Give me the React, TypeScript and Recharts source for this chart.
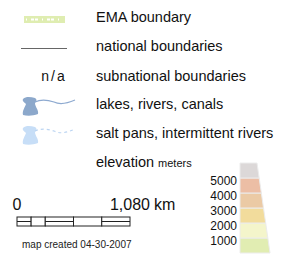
import React from "react";
import { BarChart, Bar, XAxis, YAxis } from "recharts";

// legend rows (top to bottom)
const rowLabels = [
  "EMA boundary",
  "national boundaries",
  "subnational boundaries",
  "lakes, rivers, canals",
  "salt pans, intermittent rivers",
];

// elevation ramp, metres (upper edge of each band, bottom band first)
const bandTops = [1000, 2000, 3000, 4000, 5000, 6000];
const bandColors = ["#e1edb2", "#f4f5cb", "#f2dc9c", "#ebcaa5", "#ecbea5", "#dcd8d8"];
const elevationTicks = [1000, 2000, 3000, 4000, 5000];

// scale bar segments, km
const scaleSegments = [135, 135, 270, 270, 270];
const scaleTicks = [0, 1080];
const scaleTickLabels = ["0", "1,080"];
const scaleUnit = "km";

const FONT = '"Liberation Sans", Arial, sans-serif';

const elevData = [
  bandTops.reduce<Record<string, string | number>>(
    (row, top, i) => {
      row[`b${i}`] = top - (i === 0 ? 0 : bandTops[i - 1]);
      return row;
    },
    { name: "elevation" }
  ),
];

const scaleData = [
  scaleSegments.reduce<Record<string, string | number>>(
    (row, v, i) => {
      row[`s${i}`] = v;
      return row;
    },
    { name: "scale" }
  ),
];

const EW = 76;
const EH = 110;
const EM = { top: 10, right: 6, bottom: 10, left: 0 };
const TAPER = 13 / 30;

function makeBand(color: string) {
  return (props: any) => {
    const { x, y, width, height } = props;
    const bottom = EH - EM.bottom;
    const span = EH - EM.top - EM.bottom;
    const w = (py: number) => width * (1 - (TAPER * (bottom - py)) / span);
    const pts = [
      [x, y],
      [x + w(y), y],
      [x + w(y + height), y + height],
      [x, y + height],
    ]
      .map((p) => p.join(","))
      .join(" ");
    return <polygon points={pts} fill={color} stroke="#ececec" strokeWidth={1} />;
  };
}

function makeSegment(i: number) {
  return (props: any) => {
    const { x, y, width, height } = props;
    return (
      <g>
        <rect x={x} y={y} width={width} height={height} fill="#fff" stroke="#222" strokeWidth={1} />
        {i % 2 === 0 && (
          <line x1={x} x2={x + width} y1={y + height / 2} y2={y + height / 2} stroke="#222" strokeWidth={1} />
        )}
      </g>
    );
  };
}

const ElevTick = (props: any) => {
  const { x, y, payload } = props;
  return (
    <text x={x} y={y} dy={7} textAnchor="end" fontSize={12} fill="#111" fontFamily={FONT}>
      {payload.value}
    </text>
  );
};

const ScaleTick = (props: any) => {
  const { x, y, payload, index } = props;
  const label = scaleTickLabels[index] ?? String(payload.value);
  if (index === scaleTicks.length - 1) {
    return (
      <g>
        <text x={x} y={y} dy={1} textAnchor="middle" fontSize={16} fill="#111" fontFamily={FONT}>
          {label}
        </text>
        <text x={x + 24} y={y} dy={1} textAnchor="start" fontSize={16} fill="#111" fontFamily={FONT}>
          {scaleUnit}
        </text>
      </g>
    );
  }
  return (
    <text x={x} y={y} dy={1} textAnchor="middle" fontSize={16} fill="#111" fontFamily={FONT}>
      {label}
    </text>
  );
};

const blob =
  "M23,99 C26,96 31,97 35,98 C37,99 37,101 35,103 C35,107 39,110 38,114 C33,116 27,116 23,115 C22,111 25,107 26,104 C24,102 22,101 23,99 Z";

function LegendIcons() {
  const baselines = [22, 51, 81, 109, 138];
  return (
    <svg width={296} height={260} style={{ position: "absolute", left: 0, top: 0 }}>
      {/* EMA boundary */}
      <rect x={24} y={16} width={41} height={7} fill="#dfedb1" />
      <line x1={26} x2={63} y1={19.5} y2={19.5} stroke="#fff" strokeWidth={2} strokeDasharray="1 4 3 1 3 4" />
      {/* national */}
      <line x1={21} x2={67} y1={48.5} y2={48.5} stroke="#666" strokeWidth={1.2} />
      {/* subnational */}
      <text x={54} y={81} textAnchor="middle" fontSize={14} letterSpacing={2} fill="#111" fontFamily={FONT}>
        n/a
      </text>
      {/* lakes */}
      <path d={blob} fill="#8ca8cb" />
      <path d="M35,102 C41,99 48,100 54,102 C60,105 66,104 75,100" fill="none" stroke="#8eaad0" strokeWidth={1.2} />
      {/* salt pans */}
      <path d={blob} fill="#c7def7" transform="translate(0,29)" />
      <path
        d="M35,131 C41,128 48,129 54,131 C60,134 66,133 75,129"
        fill="none"
        stroke="#bcd5f2"
        strokeWidth={1.2}
        strokeDasharray="3 3"
      />
      {rowLabels.map((t, i) => (
        <text key={t} x={96} y={baselines[i]} fontSize={14.5} fill="#111" fontFamily={FONT}>
          {t}
        </text>
      ))}
      <text x={96} y={167} fontSize={14.5} fill="#111" fontFamily={FONT}>
        elevation
        <tspan fontSize={11} dx={4}>
          meters
        </tspan>
      </text>
      <text x={22} y={248} fontSize={10} fill="#222" fontFamily={FONT}>
        map created 04-30-2007
      </text>
    </svg>
  );
}

export default function App() {
  return (
    <div
      style={{
        position: "absolute",
        left: 0,
        top: 0,
        width: 296,
        height: 260,
        background: "#fff",
        fontFamily: FONT,
      }}
    >
      <LegendIcons />
      <div style={{ position: "absolute", left: 200, top: 153 }}>
        <BarChart width={EW} height={EH} data={elevData} margin={EM} barCategoryGap={0}>
          <XAxis dataKey="name" type="category" hide />
          <YAxis
            type="number"
            domain={[0, 6000]}
            ticks={elevationTicks}
            width={40}
            axisLine={false}
            tickLine={false}
            tickSize={0}
            tickMargin={3}
            interval={0}
            tick={<ElevTick />}
          />
          {bandTops.map((_, i) => (
            <Bar
              key={i}
              dataKey={`b${i}`}
              stackId="elev"
              shape={makeBand(bandColors[i])}
              isAnimationActive={false}
            />
          ))}
        </BarChart>
      </div>
      <div style={{ position: "absolute", left: 0, top: 190 }}>
        <BarChart
          width={200}
          height={40}
          data={scaleData}
          layout="vertical"
          margin={{ top: 0, right: 70, bottom: 4, left: 17 }}
          barCategoryGap={0}
        >
          <XAxis
            type="number"
            orientation="top"
            domain={[0, 1080]}
            ticks={scaleTicks}
            height={27}
            axisLine={false}
            tickLine={false}
            interval={0}
            tick={<ScaleTick />}
          />
          <YAxis type="category" dataKey="name" hide />
          {scaleSegments.map((_, i) => (
            <Bar key={i} dataKey={`s${i}`} stackId="scale" shape={makeSegment(i)} isAnimationActive={false} />
          ))}
        </BarChart>
      </div>
    </div>
  );
}
